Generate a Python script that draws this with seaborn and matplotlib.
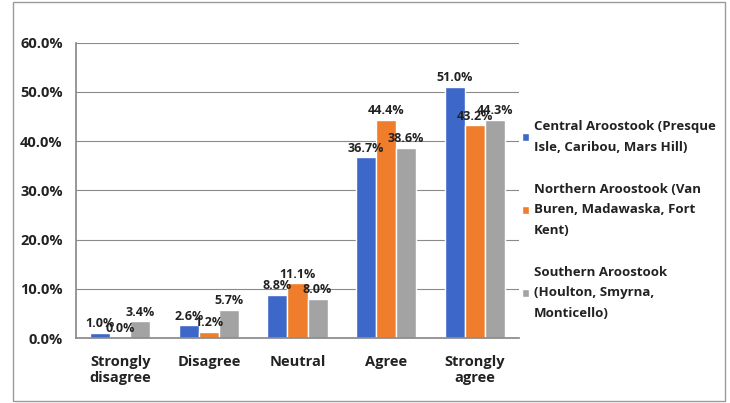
import matplotlib
matplotlib.use("Agg")
import matplotlib.pyplot as plt
import pandas as pd
import seaborn as sns
from matplotlib.patches import Rectangle

CATEGORIES = ["Strongly\ndisagree", "Disagree", "Neutral", "Agree", "Strongly\nagree"]
SERIES = [
    "Central Aroostook (Presque\nIsle, Caribou, Mars Hill)",
    "Northern Aroostook (Van\nBuren, Madawaska, Fort\nKent)",
    "Southern Aroostook\n(Houlton, Smyrna,\nMonticello)",
]
CENTRAL = [1.0, 2.6, 8.8, 36.7, 51.0]
NORTHERN = [0.0, 1.2, 11.1, 44.4, 43.2]
SOUTHERN = [3.4, 5.7, 8.0, 38.6, 44.3]
COLORS = ["#3d67c9", "#f07d2b", "#a3a3a3"]

rows = []
for name, values in zip(SERIES, [CENTRAL, NORTHERN, SOUTHERN]):
    for cat, v in zip(CATEGORIES, values):
        rows.append({"category": cat, "series": name, "value": v})
df = pd.DataFrame(rows)

sns.set_theme(style="white")
plt.rcParams["font.family"] = ["Open Sans", "DejaVu Sans"]

fig = plt.figure(figsize=(7.3, 4.03), dpi=100)
ax = fig.add_axes([0.104, 0.161, 0.607, 0.733])

sns.barplot(data=df, x="category", y="value", hue="series", palette=COLORS,
            width=0.68, saturation=1, ax=ax, errorbar=None)

for container in ax.containers:
    ax.bar_label(container, fmt="%.1f%%", fontsize=9, fontweight="bold",
                 color="#222222", padding=2)

ax.set_ylim(0, 60)
ax.set_yticks(range(0, 61, 10))
ax.set_yticklabels([f"{t:.1f}%" for t in range(0, 61, 10)], fontsize=10.5,
                   fontweight="bold", color="#222222")
ax.tick_params(axis="x", labelsize=10.5, pad=6)
for lbl in ax.get_xticklabels():
    lbl.set_fontweight("bold")
    lbl.set_color("#222222")
ax.set_xlabel("")
ax.set_ylabel("")
ax.yaxis.grid(True, color="#8a8a8a", linewidth=0.8)
ax.set_axisbelow(True)
for side in ["top", "right"]:
    ax.spines[side].set_visible(False)
ax.spines["left"].set_color("#8a8a8a")
ax.spines["bottom"].set_color("#8a8a8a")

leg = ax.legend(loc="center left", bbox_to_anchor=(0.98, 0.40), frameon=False,
                fontsize=9.5, handlelength=0.5, handleheight=0.5,
                labelspacing=2.2, handletextpad=0.4)
for txt in leg.get_texts():
    txt.set_fontweight("bold")
    txt.set_color("#222222")
    txt.set_linespacing(1.75)

fig.patches.append(Rectangle((0.018, 0.005), 0.975, 0.99, transform=fig.transFigure,
                             fill=False, edgecolor="#9a9a9a", linewidth=1))

fig.savefig("out.png", dpi=100)
